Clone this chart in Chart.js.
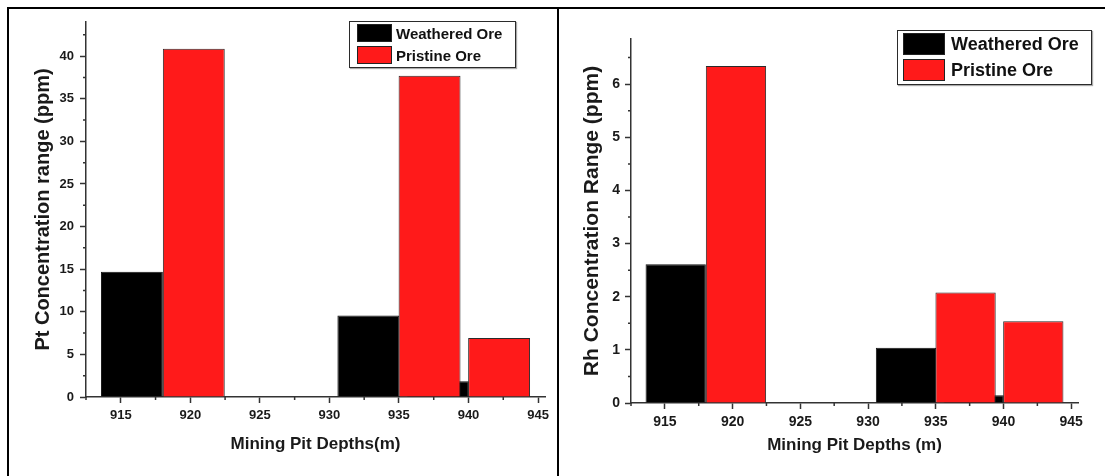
<!DOCTYPE html>
<html>
<head>
<meta charset="utf-8">
<title>Pt and Rh concentration by mining pit depth</title>
<script src="https://cdn.jsdelivr.net/npm/chart.js@4.4.1/dist/chart.umd.min.js"></script>
<style>
  body { margin: 0; width: 1105px; height: 476px; overflow: hidden; background: #fff; font-family: "Liberation Sans", Arial, sans-serif; }
  canvas { position: absolute; top: 0; }
  #ptChart { left: 0; }
  #rhChart { left: 558px; }
  .frame { position: absolute; left: 7px; top: 7px; width: 1110px; height: 480px; border-top: 2px solid #000; border-left: 2px solid #000; }
  .divider { position: absolute; left: 557px; top: 7px; width: 2px; height: 470px; background: #000; }
  .legend { position: absolute; box-sizing: border-box; border: 1px solid #2b2b2b; background: #fff; font-weight: bold; color: #111; box-shadow: 1px 1px 1px #aaa; }
  .legend-row { display: flex; align-items: center; }
  .legend-swatch { display: block; box-sizing: border-box; border: 1px solid #222; }
  #ptLegend { left: 349px; top: 21px; width: 167px; height: 47px; padding: 2px 0 0 7px; font-size: 15px; }
  #ptLegend .legend-row { height: 18px; margin-bottom: 4px; }
  #ptLegend .legend-swatch { width: 35px; height: 18px; margin-right: 4px; }
  #rhLegend { left: 897px; top: 30px; width: 195px; height: 55px; padding: 2px 0 0 5px; font-size: 18px; }
  #rhLegend .legend-row { height: 22px; margin-bottom: 4px; }
  #rhLegend .legend-swatch { width: 42px; height: 22px; margin-right: 6px; }
</style>
</head>
<body>
<canvas id="ptChart" width="558" height="476"></canvas>
<canvas id="rhChart" width="547" height="476"></canvas>
<div class="frame"></div>
<div class="divider"></div>
<div class="legend" id="ptLegend"></div>
<div class="legend" id="rhLegend"></div>
<script>
// depth (m) at the middle of each bar
const weatheredDepths = [915.8, 932.8, 937.8];
const pristineDepths = [920.25, 937.2, 942.2];

// Pt concentration range (ppm)
const ptWeathered = [14.7, 9.55, 1.84];
const ptPristine = [40.85, 37.7, 6.93];

// Rh concentration range (ppm)
const rhWeathered = [2.61, 1.04, 0.145];
const rhPristine = [6.34, 2.08, 1.54];

// tick labels
const depthTicks = [915, 920, 925, 930, 935, 940, 945];
const ptTicks = [0, 5, 10, 15, 20, 25, 30, 35, 40];
const rhTicks = [0, 1, 2, 3, 4, 5, 6];

const seriesNames = ["Weathered Ore", "Pristine Ore"];
const seriesColors = ["#000000", "#ff1a1a"];

const FONT = '"Liberation Sans", Arial, sans-serif';
const TEXT = "#1a1a1a";
const AXIS = "#333333";

function toPoints(depths, values) {
  return depths.map((d, i) => ({ x: d, y: values[i] }));
}

// use our own tick list instead of the generated one
function setTicks(values) {
  return (scale) => {
    scale.ticks = values.map((v) => ({ value: v }));
  };
}

// short ticks half way between the labelled ones (Origin style)
const minorTicks = {
  id: "minorTicks",
  afterDraw(chart, args, opts) {
    const ctx = chart.ctx;
    const area = chart.chartArea;
    ctx.save();
    ctx.strokeStyle = opts.color;
    ctx.lineWidth = opts.width;
    ctx.beginPath();
    ["x", "y"].forEach((id) => {
      const scale = chart.scales[id];
      const step = opts[id];
      const half = step / 2;
      for (let v = Math.ceil(scale.min / half) * half; v <= scale.max + 1e-9; v += half) {
        const r = v / step;
        if (Math.abs(r - Math.round(r)) < 1e-6) continue; // major tick
        const p = scale.getPixelForValue(v);
        if (id === "x") {
          ctx.moveTo(p, area.bottom);
          ctx.lineTo(p, area.bottom + opts.length);
        } else {
          ctx.moveTo(area.left, p);
          ctx.lineTo(area.left - opts.length, p);
        }
      }
    });
    ctx.stroke();
    ctx.restore();
  },
};

function drawPanel(canvasId, p) {
  const bold = { family: FONT, weight: "bold" };
  return new Chart(document.getElementById(canvasId), {
    type: "bar",
    data: {
      datasets: [
        {
          label: seriesNames[0],
          data: toPoints(weatheredDepths, p.weathered),
          xAxisID: "xw", // own axis so bar width comes from the 5 m spacing
          backgroundColor: seriesColors[0],
          borderColor: "#111",
          borderWidth: 1,
          grouped: false,
          barPercentage: 0.89,
          categoryPercentage: 1,
          order: 2,
        },
        {
          label: seriesNames[1],
          data: toPoints(pristineDepths, p.pristine),
          xAxisID: "x",
          backgroundColor: seriesColors[1],
          borderColor: "#2a2a2a",
          borderWidth: 1,
          grouped: false,
          barPercentage: 0.89,
          categoryPercentage: 1,
          order: 1, // drawn over the weathered bars
        },
      ],
    },
    options: {
      responsive: false,
      animation: false,
      layout: { padding: p.padding },
      plugins: {
        legend: { display: false },
        tooltip: { enabled: false },
        minorTicks: { x: 5, y: p.yStep, length: 3, color: AXIS, width: 1.5 },
      },
      scales: {
        x: {
          type: "linear",
          min: 912.5,
          max: 945.5,
          offset: false,
          afterBuildTicks: setTicks(depthTicks),
          afterFit: (s) => { s.height = p.xAxisHeight; },
          border: { color: AXIS, width: 1.5 },
          grid: { offset: false, drawOnChartArea: false, tickLength: 6, tickColor: AXIS, tickWidth: 1.5 },
          ticks: { font: { ...bold, size: p.tickSize }, color: TEXT, padding: 5, maxRotation: 0, autoSkip: false },
          title: {
            display: true,
            text: p.xTitle,
            color: TEXT,
            font: { ...bold, size: p.xTitleSize },
            padding: { top: 0, bottom: p.xTitlePad },
          },
        },
        xw: {
          type: "linear",
          display: false,
          min: 912.5,
          max: 945.5,
          offset: false,
          afterBuildTicks: setTicks(depthTicks),
        },
        y: {
          min: 0,
          max: p.yMax,
          afterBuildTicks: setTicks(p.yTicks),
          afterFit: (s) => { s.width = p.yAxisWidth; },
          border: { color: AXIS, width: 1.5 },
          grid: { drawOnChartArea: false, tickLength: 6, tickColor: AXIS, tickWidth: 1.5 },
          ticks: { font: { ...bold, size: p.tickSize }, color: TEXT, padding: p.yTickPad },
          title: {
            display: true,
            text: p.yTitle,
            color: TEXT,
            font: { ...bold, size: p.yTitleSize },
            padding: { top: p.yTitlePad, bottom: 0 },
          },
        },
      },
    },
    plugins: [minorTicks],
  });
}

function buildLegend(chart, el) {
  chart.data.datasets.forEach((ds) => {
    const row = document.createElement("div");
    row.className = "legend-row";
    const swatch = document.createElement("span");
    swatch.className = "legend-swatch";
    swatch.style.background = ds.backgroundColor;
    const label = document.createElement("span");
    label.textContent = ds.label;
    row.append(swatch, label);
    el.appendChild(row);
  });
}

const ptChart = drawPanel("ptChart", {
  weathered: ptWeathered,
  pristine: ptPristine,
  yTicks: ptTicks,
  yMax: 44,
  yStep: 5,
  yTitle: "Pt Concentration range (ppm)",
  xTitle: "Mining Pit Depths(m)",
  padding: { left: 0, top: 22, right: 13, bottom: 0 },
  yAxisWidth: 86,
  xAxisHeight: 79,
  tickSize: 13,
  yTickPad: 6,
  yTitleSize: 20,
  yTitlePad: 31,
  xTitleSize: 17,
  xTitlePad: 21,
});
buildLegend(ptChart, document.getElementById("ptLegend"));

const rhChart = drawPanel("rhChart", {
  weathered: rhWeathered,
  pristine: rhPristine,
  yTicks: rhTicks,
  yMax: 6.85,
  yStep: 1,
  yTitle: "Rh Concentration Range (ppm)",
  xTitle: "Mining Pit Depths (m)",
  padding: { left: 0, top: 39, right: 27, bottom: 0 },
  yAxisWidth: 73,
  xAxisHeight: 73,
  tickSize: 14,
  yTickPad: 5,
  yTitleSize: 21,
  yTitlePad: 22,
  xTitleSize: 17,
  xTitlePad: 20,
});
buildLegend(rhChart, document.getElementById("rhLegend"));
</script>
</body>
</html>
